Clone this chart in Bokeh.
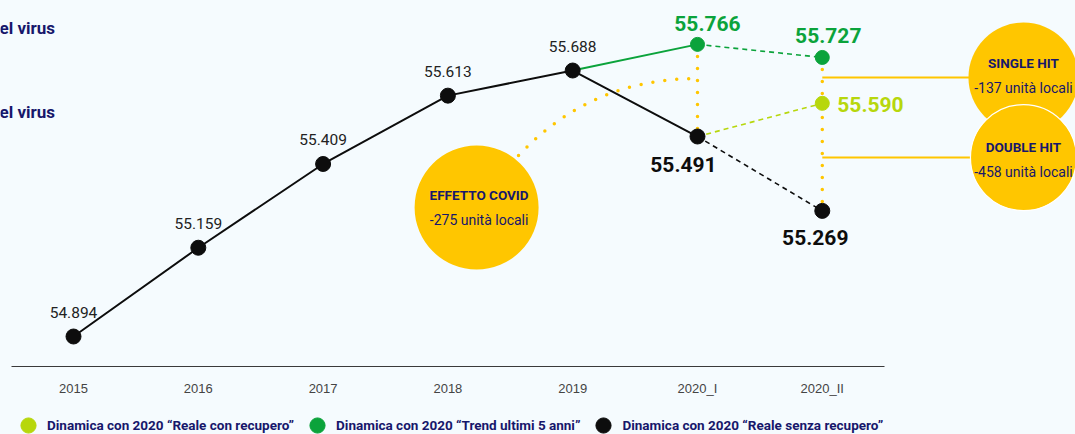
from bokeh.plotting import figure
from bokeh.models import (ColumnDataSource, LinearAxis, FixedTicker, Legend,
                          LegendItem, Label, Range1d)
from bokeh.embed import file_html
from bokeh.resources import INLINE
from bokeh.core.properties import value

# ---------------- data ----------------
periods = ["2015", "2016", "2017", "2018", "2019", "2020_I", "2020_II"]
storico = [54894, 55159, 55409, 55613, 55688]      # 2015-2019 unità locali
senza_recupero = [55491, 55269]                    # 2020_I, 2020_II (black)
trend_5_anni = [55766, 55727]                      # 2020_I, 2020_II (green)
con_recupero = [55491, 55590]                      # 2020_I, 2020_II (lime)
effetti_titoli = ["EFFETTO COVID", "SINGLE HIT", "DOUBLE HIT"]
effetti_valori = [-275, -137, -458]
legend_labels = ["Dinamica con 2020 \u201cReale con recupero\u201d",
                 "Dinamica con 2020 \u201cTrend ultimi 5 anni\u201d",
                 "Dinamica con 2020 \u201cReale senza recupero\u201d"]
side_texts = ["el virus", "el virus"]

# ---------------- style ----------------
BG = "#f5fbfe"
BLACK = "#0d0d0d"
GREEN = "#0ba33b"
LIME = "#b7d70c"
YELLOW = "#ffc600"
NAVY = "#17176b"
FONT = "Roboto"
W, H = 1075, 434


def fmt(v):
    return f"{v:,}".replace(",", ".")


p = figure(width=W, height=H, output_backend="svg", toolbar_location=None,
           x_axis_location=None, y_axis_location=None, min_border=0,
           x_range=Range1d(-0.585, 8.029), y_range=Range1d(54601.5, 55897.0),
           background_fill_color=BG, border_fill_color=BG, outline_line_color=None)
p.grid.visible = False

n = len(storico)
x_hist = list(range(n))
i1, i2 = n, n + 1

# annotation positions (layout)
COVID_X, COVID_Y = 3.23, 55279
HIT_X = 7.612
SINGLE_Y, DOUBLE_Y = 55667, 55428

# yellow dotted helper lines
p.segment(x0=[i1, i2], y0=[trend_5_anni[0], trend_5_anni[1]],
          x1=[i1, i2], y1=[senza_recupero[0], senza_recupero[1]],
          line_color=YELLOW, line_width=3.5, line_dash="0 12", line_cap="round")
p.quadratic(x0=[3.566], y0=[55434], x1=[i1], y1=[55664], cx=[4.143], cy=[55664],
            line_color=YELLOW, line_width=3.5, line_dash="0 12", line_cap="round")
# yellow connectors to circles
p.segment(x0=[i2, i2], y0=[SINGLE_Y, DOUBLE_Y], x1=[HIT_X, HIT_X], y1=[SINGLE_Y, DOUBLE_Y],
          line_color=YELLOW, line_width=2)

# yellow bubbles
p.scatter([COVID_X], [COVID_Y], size=124, fill_color=YELLOW, line_color=None)
p.scatter([HIT_X], [SINGLE_Y], size=110, fill_color=YELLOW, line_color=None)
p.scatter([HIT_X], [DOUBLE_Y], size=106, fill_color=YELLOW, line_color="white", line_width=1.2)

bub = ColumnDataSource(dict(
    x=[COVID_X + 0.02, HIT_X, HIT_X],
    y=[COVID_Y, SINGLE_Y, DOUBLE_Y],
    t=effetti_titoli,
    v=[f"{v} unità locali" for v in effetti_valori],
    oy1=[-13, -15, -11],
    oy2=[12, 10, 14],
))
p.text(x="x", y="y", text="t", y_offset="oy1", source=bub, text_align="center",
       text_baseline="middle", text_font=value(FONT), text_font_style="bold",
       text_font_size="13.5px", text_color=NAVY)
p.text(x="x", y="y", text="v", y_offset="oy2", source=bub, text_align="center",
       text_baseline="middle", text_font=value(FONT),
       text_font_size="14px", text_color=NAVY)

# series lines
p.line(x_hist + [i1], storico + [senza_recupero[0]], line_color=BLACK, line_width=2)
p.line([i1, i2], senza_recupero, line_color=BLACK, line_width=1.6, line_dash="5 4")
p.line([i1 - 1, i1], [storico[-1], trend_5_anni[0]], line_color=GREEN, line_width=2)
p.line([i1, i2], trend_5_anni, line_color=GREEN, line_width=1.6, line_dash="5 4")
p.line([i1, i2], con_recupero, line_color=LIME, line_width=1.6, line_dash="5 4")

# markers
r_green = p.scatter([i1, i2], trend_5_anni, size=14, color=GREEN)
r_lime = p.scatter([i2], [con_recupero[1]], size=14, color=LIME)
r_black = p.scatter(x_hist + [i1, i2], storico + senza_recupero, size=15, color=BLACK)

# value labels 2015-2019
hist_src = ColumnDataSource(dict(x=x_hist, y=storico, t=[fmt(v) for v in storico]))
p.text(x="x", y="y", text="t", source=hist_src, y_offset=-24, text_align="center",
       text_baseline="middle", text_font=value(FONT), text_font_size="15.5px",
       text_color="#222222")

big = dict(text_baseline="middle", text_font=value(FONT), text_font_style="bold",
           text_font_size="21px")
p.text(x=[i1, i2], y=trend_5_anni, text=[fmt(v) for v in trend_5_anni],
       x_offset=[10, 6], y_offset=[-21, -22], text_align="center", text_color=GREEN, **big)
p.text(x=[i2], y=[con_recupero[1]], text=[fmt(con_recupero[1])], x_offset=15,
       y_offset=1, text_align="left", text_color=LIME, **big)
p.text(x=[i1, i2], y=senza_recupero, text=[fmt(v) for v in senza_recupero],
       x_offset=[-14, -7], y_offset=[28, 27], text_align="center", text_color=BLACK, **big)

# x axis
xaxis = LinearAxis(fixed_location=54804.4, ticker=FixedTicker(ticks=list(range(len(periods)))),
                   major_label_overrides={i: s for i, s in enumerate(periods)},
                   bounds=(-0.5, 6.5), axis_line_color="#3a3a3a", axis_line_width=1.2,
                   major_tick_line_color=None, minor_tick_line_color=None,
                   major_tick_in=0, major_tick_out=0, minor_tick_in=0, minor_tick_out=0,
                   major_label_standoff=14, major_label_text_font_size="13px",
                   major_label_text_color="#444444",
                   major_label_text_font="Liberation Sans")
p.add_layout(xaxis, "below")

# cut-off side texts
for yy, t in zip([H - 27, H - 111], side_texts):
    p.add_layout(Label(x=-1, y=yy, x_units="screen", y_units="screen", text=t,
                       text_baseline="middle", text_font=FONT, text_font_style="bold",
                       text_font_size="17px", text_color=NAVY))

# legend
legend = Legend(items=[LegendItem(label=legend_labels[0], renderers=[r_lime]),
                       LegendItem(label=legend_labels[1], renderers=[r_green]),
                       LegendItem(label=legend_labels[2], renderers=[r_black])],
                orientation="horizontal", location=(9, -10), glyph_width=38,
                glyph_height=38, label_height=38, spacing=4, padding=0, margin=0,
                label_standoff=0,
                background_fill_alpha=0, border_line_color=None,
                label_text_font=FONT, label_text_font_style="bold",
                label_text_font_size="13.5px", label_text_color=NAVY)
p.add_layout(legend, "center")

html = file_html(p, INLINE)
html = html.replace("<head>", "<head><style>html,body{background:%s;}</style>" % BG, 1)
open("out.html", "w").write(html)
